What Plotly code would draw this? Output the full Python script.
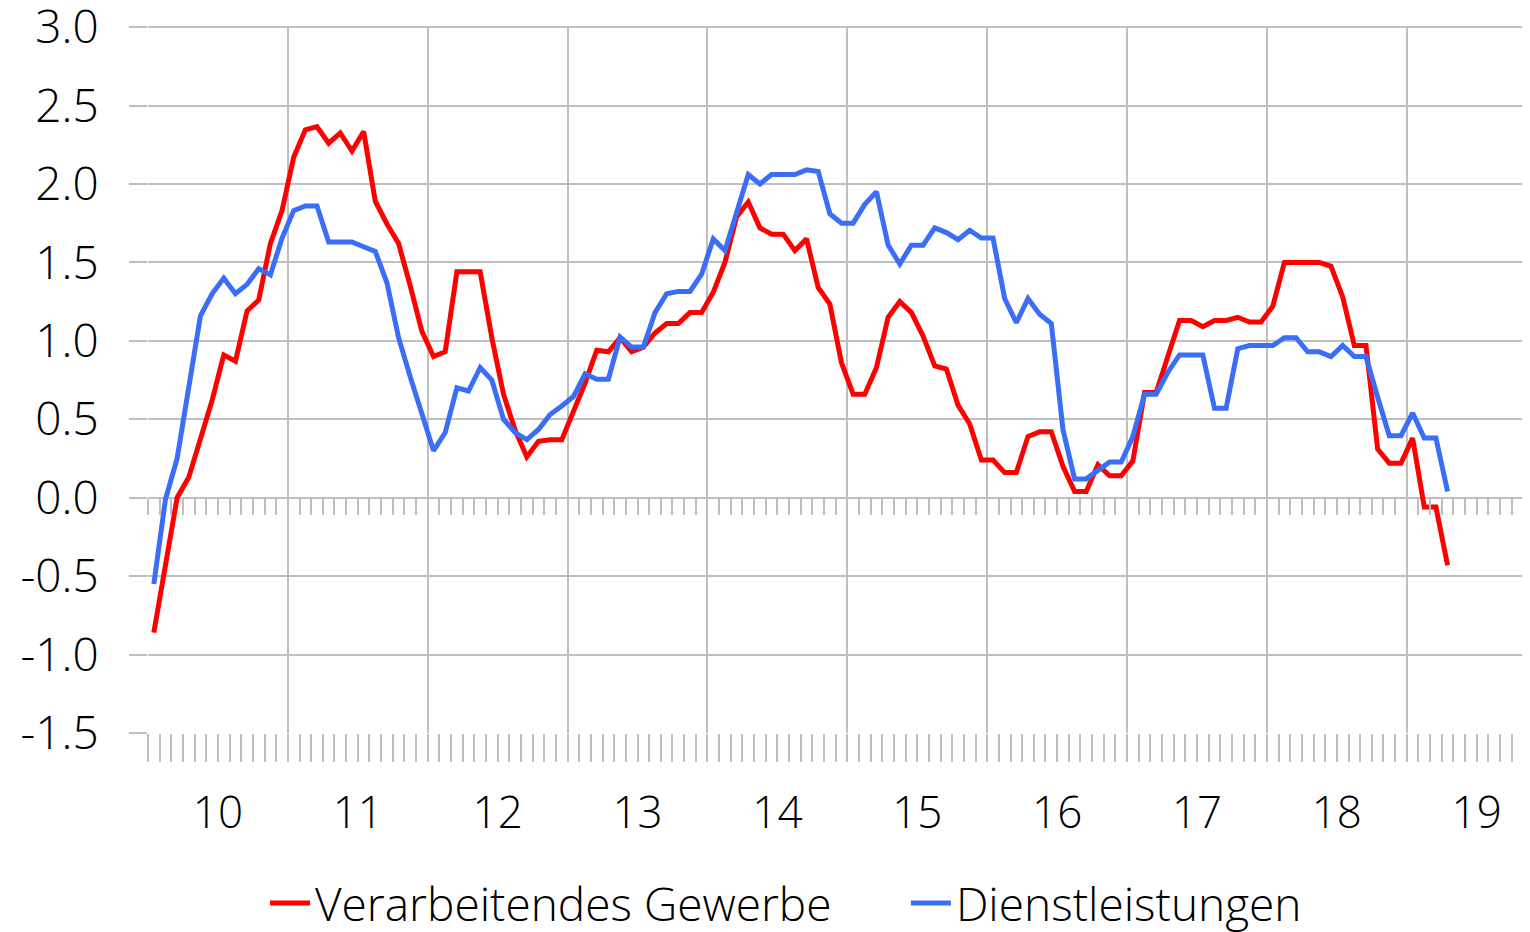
import plotly.graph_objects as go

# ---- data (monthly, Jan 2010 .. Apr 2019) ----
years = ["10", "11", "12", "13", "14", "15", "16", "17", "18", "19"]
y_tick_values = [3.0, 2.5, 2.0, 1.5, 1.0, 0.5, 0.0, -0.5, -1.0, -1.5]
y_tick_labels = ["3.0", "2.5", "2.0", "1.5", "1.0", "0.5", "0.0", "-0.5", "-1.0", "-1.5"]

verarbeitendes_gewerbe = [
    -0.86, -0.42, 0.00, 0.13, 0.38, 0.62, 0.91, 0.87, 1.19, 1.26, 1.62, 1.83,
    2.17, 2.345, 2.365, 2.26, 2.325, 2.21, 2.335, 1.89, 1.745, 1.62, 1.35, 1.06,
    0.90, 0.93, 1.44, 1.44, 1.44, 1.02, 0.66, 0.43, 0.26, 0.36, 0.37, 0.37,
    0.55, 0.73, 0.94, 0.93, 1.02, 0.93, 0.96, 1.05, 1.11, 1.11, 1.18, 1.18,
    1.31, 1.50, 1.79, 1.885, 1.72, 1.68, 1.68, 1.575, 1.65, 1.34, 1.235, 0.86,
    0.66, 0.66, 0.83, 1.15, 1.25, 1.18, 1.03, 0.84, 0.82, 0.59, 0.47, 0.24,
    0.24, 0.16, 0.16, 0.39, 0.42, 0.42, 0.20, 0.04, 0.04, 0.21, 0.14, 0.14,
    0.235, 0.67, 0.67, 0.90, 1.13, 1.13, 1.09, 1.13, 1.13, 1.15, 1.12, 1.12,
    1.22, 1.50, 1.50, 1.50, 1.50, 1.475, 1.28, 0.97, 0.97, 0.31, 0.22, 0.22,
    0.38, -0.06, -0.06, -0.43,
]

dienstleistungen = [
    -0.55, -0.01, 0.25, 0.70, 1.16, 1.30, 1.40, 1.30, 1.36, 1.46, 1.42, 1.655,
    1.83, 1.86, 1.86, 1.63, 1.63, 1.63, 1.60, 1.57, 1.37, 1.02, 0.77, 0.54,
    0.30, 0.415, 0.70, 0.68, 0.83, 0.75, 0.50, 0.415, 0.37, 0.435, 0.53, 0.585,
    0.645, 0.79, 0.755, 0.755, 1.025, 0.96, 0.96, 1.18, 1.30, 1.315, 1.315, 1.425,
    1.65, 1.575, 1.815, 2.06, 2.00, 2.06, 2.06, 2.06, 2.09, 2.08, 1.81, 1.75,
    1.75, 1.87, 1.95, 1.61, 1.49, 1.61, 1.61, 1.72, 1.69, 1.645, 1.705, 1.655,
    1.655, 1.27, 1.115, 1.27, 1.17, 1.11, 0.435, 0.12, 0.12, 0.17, 0.227, 0.227,
    0.39, 0.66, 0.66, 0.80, 0.91, 0.91, 0.91, 0.57, 0.57, 0.95, 0.97, 0.97,
    0.97, 1.02, 1.02, 0.93, 0.93, 0.90, 0.97, 0.90, 0.90, 0.64, 0.395, 0.395,
    0.54, 0.38, 0.38, 0.04,
]

# month positions: each month occupies [i, i+1), point at centre
months_per_year = 12
x_red = [i + 0.5 for i in range(len(verarbeitendes_gewerbe))]
x_blue = [i + 0.5 for i in range(len(dienstleistungen))]
year_bounds = [k * months_per_year for k in range(len(years) + 1)]
year_centres = [k * months_per_year + months_per_year / 2 for k in range(len(years))]
month_bounds = list(range(len(years) * months_per_year + 1))

GRID = "#BFBFBF"
FONT = "Open Sans"
XRANGE = [0, 118.4]
YRANGE = [-1.5, 3.007]

fig = go.Figure()
fig.add_trace(go.Scatter(x=x_red, y=verarbeitendes_gewerbe, mode="lines",
                         name="Verarbeitendes Gewerbe", legend="legend",
                         line=dict(color="#FF0000", width=5)))
fig.add_trace(go.Scatter(x=x_blue, y=dienstleistungen, mode="lines",
                         name="Dienstleistungen", legend="legend2",
                         line=dict(color="#3A6EF8", width=5)))

legend_font = dict(family=FONT, size=46, color="#000000", weight=300)

fig.update_layout(
    width=1522, height=932,
    margin=dict(l=140, r=2, t=18, b=207, autoexpand=False),
    paper_bgcolor="white", plot_bgcolor="white",
    font=dict(family=FONT, size=44, color="#000000", weight=300),
    showlegend=True,
    legend=dict(orientation="h", x=0.0848, xanchor="left", y=-0.2405, yanchor="middle",
                font=legend_font, itemwidth=40, bgcolor="rgba(0,0,0,0)"),
    legend2=dict(orientation="h", x=0.5492, xanchor="left", y=-0.2405, yanchor="middle",
                 font=legend_font, itemwidth=40, bgcolor="rgba(0,0,0,0)"),
    xaxis=dict(
        range=XRANGE, autorange=False, automargin=False,
        tickmode="array", tickvals=year_bounds,
        ticktext=["" for _ in year_bounds],
        ticks="outside", ticklen=105, tickwidth=2, tickcolor=GRID,
        showgrid=True, gridcolor=GRID, gridwidth=2,
        zeroline=False, showline=False,
        minor=dict(tickmode="array", tickvals=month_bounds, ticks="outside",
                   ticklen=28, tickwidth=2, tickcolor=GRID, showgrid=False),
    ),
    xaxis2=dict(
        range=XRANGE, autorange=False, automargin=False,
        overlaying="x", anchor="y", side="bottom",
        tickmode="array", tickvals=year_centres, ticktext=years,
        ticks="", showgrid=False, zeroline=False, showline=False,
        tickfont=dict(family=FONT, size=44, color="#000000", weight=300),
        ticklabelstandoff=50,
    ),
    xaxis3=dict(
        range=XRANGE, autorange=False, automargin=False,
        overlaying="x", anchor="free", position=1.5 / (YRANGE[1] - YRANGE[0]), side="bottom",
        tickmode="array", tickvals=month_bounds, ticks="outside", ticklen=16,
        tickwidth=2, tickcolor=GRID, showticklabels=False,
        showgrid=False, zeroline=False, showline=False,
    ),
    yaxis=dict(
        range=YRANGE, autorange=False, automargin=False,
        tickmode="array", tickvals=y_tick_values, ticktext=y_tick_labels,
        ticks="outside", ticklen=18, tickwidth=2, tickcolor=GRID,
        showgrid=True, gridcolor=GRID, gridwidth=2,
        zeroline=False, showline=False, ticklabeloverflow="allow",
        tickfont=dict(family=FONT, size=46, color="#000000", weight=300),
        ticklabelstandoff=21,
    ),
)

# invisible helper traces so the overlay axes are rendered
fig.add_trace(go.Scatter(x=[year_centres[0]], y=[None], xaxis="x2", showlegend=False,
                         hoverinfo="skip", mode="lines"))
fig.add_trace(go.Scatter(x=[year_centres[0]], y=[None], xaxis="x3", showlegend=False,
                         hoverinfo="skip", mode="lines"))

fig.write_html("out.html")
